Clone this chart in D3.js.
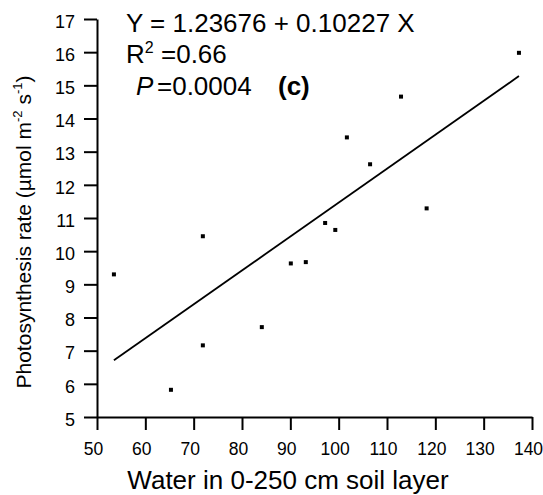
<!DOCTYPE html>
<html>
<head>
<meta charset="utf-8">
<script src="https://cdn.jsdelivr.net/npm/d3@7"></script>
<style>
  body { margin: 0; background: #fff; }
  svg { display: block; font-family: Arial, "Liberation Sans", sans-serif; }
</style>
</head>
<body>
<script>
// water in 0-250 cm soil layer vs photosynthesis rate
const water = [53.5, 65.3, 71.9, 71.9, 84.1, 90.1, 93.2, 97.2, 99.3, 101.7, 106.5, 112.9, 118.2, 137.3];
const photo = [9.30, 5.82, 10.45, 7.16, 7.71, 9.63, 9.67, 10.85, 10.64, 13.43, 12.62, 14.66, 11.29, 15.98];
const xTicks = [50, 60, 70, 80, 90, 100, 110, 120, 130, 140];
const yTicks = [5, 6, 7, 8, 9, 10, 11, 12, 13, 14, 15, 16, 17];
const intercept = 1.23676, slope = 0.10227;

const width = 543, height = 495;
const plotLeft = 97, plotRight = 532, plotTop = 19, plotBottom = 417;

const svg = d3.select("body").append("svg")
    .attr("width", width)
    .attr("height", height);

const x = d3.scaleLinear().domain([50, 140]).range([plotLeft, plotRight]);
const y = d3.scaleLinear().domain([5, 17]).range([plotBottom, plotTop]);

// x axis
const gx = svg.append("g")
    .attr("transform", `translate(0,${plotBottom})`)
    .call(d3.axisBottom(x).tickValues(xTicks).tickSize(13).tickSizeOuter(0).tickPadding(13));
gx.selectAll("text").attr("font-size", 17.5).attr("dx", -4);

// y axis
const gy = svg.append("g")
    .attr("transform", `translate(${plotLeft},0)`)
    .call(d3.axisLeft(y).tickValues(yTicks).tickSize(13).tickSizeOuter(0).tickPadding(9));
gy.selectAll("text").attr("font-size", 18).attr("dy", "0.46em");

svg.selectAll(".domain, .tick line")
    .attr("stroke", "#000")
    .attr("stroke-width", 2);
svg.selectAll("g[font-family]").attr("font-family", null).attr("font-size", null);
svg.selectAll(".tick text").attr("fill", "#000");

// regression line
const xr = d3.extent(water);
svg.append("line")
    .attr("x1", x(xr[0])).attr("y1", y(intercept + slope * xr[0]))
    .attr("x2", x(xr[1])).attr("y2", y(intercept + slope * xr[1]))
    .attr("stroke", "#000")
    .attr("stroke-width", 1.8);

// points
svg.append("g")
    .selectAll("rect")
    .data(water.map((w, i) => [w, photo[i]]))
    .enter().append("rect")
    .attr("x", d => x(d[0]) - 2)
    .attr("y", d => y(d[1]) - 2)
    .attr("width", 4)
    .attr("height", 4)
    .attr("fill", "#000");

// annotations
svg.append("text")
    .attr("x", 126).attr("y", 32)
    .attr("font-size", 26)
    .text("Y = 1.23676 + 0.10227 X");

const r2 = svg.append("text")
    .attr("x", 126).attr("y", 63)
    .attr("font-size", 26);
r2.append("tspan").text("R");
r2.append("tspan").attr("font-size", 16).attr("dy", -10).text("2");
r2.append("tspan").attr("x", 161).attr("dy", 10).text("=0.66");

svg.append("text")
    .attr("x", 136).attr("y", 95)
    .attr("font-size", 26)
    .attr("font-style", "italic")
    .text("P");
svg.append("text")
    .attr("x", 157).attr("y", 95)
    .attr("font-size", 26)
    .text("=0.0004");
svg.append("text")
    .attr("x", 278).attr("y", 95)
    .attr("font-size", 26)
    .attr("font-weight", "bold")
    .text("(c)");

// axis titles
svg.append("text")
    .attr("x", 288).attr("y", 489)
    .attr("font-size", 26)
    .attr("text-anchor", "middle")
    .text("Water in 0-250 cm soil layer");

const yt = svg.append("text")
    .attr("transform", "translate(31,232) rotate(-90)")
    .attr("font-size", 21)
    .attr("text-anchor", "middle");
yt.append("tspan").text("Photosynthesis rate (µmol m");
yt.append("tspan").attr("font-size", 13).attr("dy", -9).text("-2");
yt.append("tspan").attr("dy", 9).text(" s");
yt.append("tspan").attr("font-size", 13).attr("dy", -9).text("-1");
yt.append("tspan").attr("dy", 9).text(")");
</script>
</body>
</html>
